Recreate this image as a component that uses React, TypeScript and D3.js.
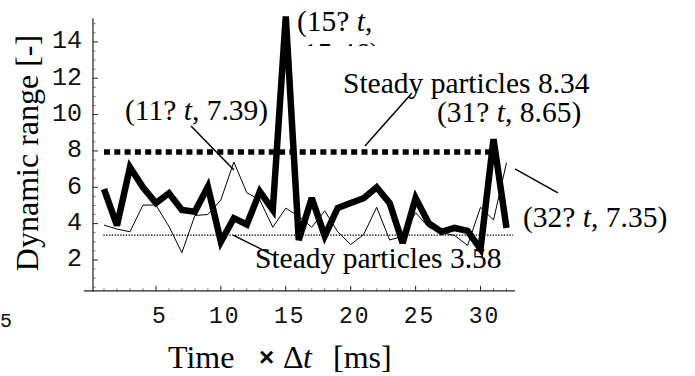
import React from 'react';
import * as d3 from 'd3';

// ---- data ----
const timeSteps = [1, 2, 3, 4, 5, 6, 7, 8, 9, 10, 11, 12, 13, 14, 15, 16, 17, 18, 19, 20, 21, 22, 23, 24, 25, 26, 27, 28, 29, 30, 31, 32];
const rangeThick = [5.9, 3.9, 7.1, 6.0, 5.13, 5.67, 4.75, 4.66, 6.03, 3.0, 4.3, 3.95, 5.76, 4.75, 15.4, 3.1, 5.41, 3.32, 4.86, 5.13, 5.4, 6.0, 5.13, 2.93, 5.41, 4.03, 3.54, 3.76, 3.6, 2.6, 8.65, 3.76];
const rangeThin = [3.92, 3.7, 3.55, 5.02, 5.02, 3.85, 2.4, 4.45, 4.5, 5.3, 7.39, 5.7, 5.3, 3.8, 4.85, 4.4, 3.8, 4.7, 3.55, 2.85, 3.4, 4.9, 3.1, 3.3, 4.6, 3.8, 3.5, 3.35, 2.8, 4.9, 4.2, 7.35];
const steadyHighLevel = 7.94;
const steadyHighSpan = [1, 31];
const steadyLowLevel = 3.37;
const steadyLowSpan = [0.95, 32.5];
const xTickValues = [5, 10, 15, 20, 25, 30];
const yTickValues = [2, 4, 6, 8, 10, 12, 14];
const xMinorTicks = [1, 2, 3, 4, 6, 7, 8, 9, 11, 12, 13, 14, 16, 17, 18, 19, 21, 22, 23, 24, 26, 27, 28, 29, 31, 32];
const yMinorTicks = [0.5, 1, 1.5, 2.5, 3, 3.5, 4.5, 5, 5.5, 6.5, 7, 7.5, 8.5, 9, 9.5, 10.5, 11, 11.5, 12.5, 13, 13.5, 14.5, 15];
const labelSteadyHigh = 'Steady particles 8.34';
const labelSteadyLow = 'Steady particles 3.58';

const W = 695;
const H = 376;
const SERIF = '"Liberation Serif", "Times New Roman", serif';
const MONO = '"Liberation Mono", "DejaVu Sans Mono", monospace';

export default function App() {
  const x = d3.scaleLinear().domain([1, 32]).range([104, 506.5]);
  const y = d3.scaleLinear().domain([0, 14]).range([296.3, 41.9]);

  const line = d3
    .line<number>()
    .x((_, i) => x(timeSteps[i]))
    .y((d) => y(d));

  const axisX0 = x(0.15);
  const axisY0 = y(0.3);
  const xAxisStart = x(-0.55);
  const xAxisEnd = x(32.65);
  const yAxisTop = y(15.3);

  // leader lines, in data coordinates
  const leaders: [number, number, number, number][] = [
    [7.7, 9.37, 11.01, 6.95],
    [24.72, 11.19, 21.1, 8.27],
    [32.65, 7.01, 35.96, 5.69],
    [10.94, 3.37, 14.02, 2.27],
  ];

  const annFont = 29.5;

  return (
    <svg
      width={W}
      height={H}
      viewBox={`0 0 ${W} ${H}`}
      style={{ position: 'absolute', left: 0, top: 0, background: '#fff' }}
    >
      <defs>
        <clipPath id="clipTop">
          <rect x={0} y={0} width={W} height={46} />
        </clipPath>
      </defs>
      <rect x={0} y={0} width={W} height={H} fill="#fff" />

      {/* axes */}
      <line x1={axisX0} x2={axisX0} y1={yAxisTop} y2={axisY0 + 1} stroke="#222" strokeWidth={1.2} />
      <line x1={xAxisStart} x2={xAxisEnd} y1={axisY0} y2={axisY0} stroke="#222" strokeWidth={1.3} />

      {yTickValues.map((v) => (
        <line key={'ym' + v} x1={axisX0} x2={axisX0 + 5} y1={y(v)} y2={y(v)} stroke="#222" strokeWidth={1} />
      ))}
      {yMinorTicks.map((v) => (
        <line key={'yn' + v} x1={axisX0} x2={axisX0 + 2.5} y1={y(v)} y2={y(v)} stroke="#444" strokeWidth={0.8} />
      ))}
      {xTickValues.map((v) => (
        <line key={'xm' + v} x1={x(v)} x2={x(v)} y1={axisY0} y2={axisY0 - 5} stroke="#222" strokeWidth={1} />
      ))}
      {xMinorTicks.map((v) => (
        <line key={'xn' + v} x1={x(v)} x2={x(v)} y1={axisY0} y2={axisY0 - 2.5} stroke="#444" strokeWidth={0.8} />
      ))}

      {yTickValues.map((v) => (
        <text
          key={'yl' + v}
          x={82}
          y={y(v)}
          dominantBaseline="central"
          textAnchor="end"
          fontFamily={MONO}
          fontSize={25}
          fill="#111"
        >
          {v}
        </text>
      ))}
      {xTickValues.map((v) => (
        <text
          key={'xl' + v}
          x={x(v) + 4}
          y={323}
          textAnchor="middle"
          fontFamily={MONO}
          fontSize={23}
          letterSpacing={2}
          fill="#111"
        >
          {v}
        </text>
      ))}

      {/* steady levels */}
      <line
        x1={x(steadyHighSpan[0])}
        x2={x(steadyHighSpan[1])}
        y1={y(steadyHighLevel)}
        y2={y(steadyHighLevel)}
        stroke="#000"
        strokeWidth={5.5}
        strokeDasharray="6 4.3"
      />
      <line
        x1={x(steadyLowSpan[0])}
        x2={x(steadyLowSpan[1])}
        y1={y(steadyLowLevel)}
        y2={y(steadyLowLevel)}
        stroke="#000"
        strokeWidth={1.3}
        strokeDasharray="1.4 1.4"
      />

      {/* series */}
      <path d={line(rangeThick) || ''} fill="none" stroke="#000" strokeWidth={6.5} strokeLinejoin="miter" strokeMiterlimit={3} />
      <path d={line(rangeThin) || ''} fill="none" stroke="#000" strokeWidth={1} />

      {/* leaders */}
      {leaders.map((l, i) => (
        <line key={'ld' + i} x1={x(l[0])} y1={y(l[1])} x2={x(l[2])} y2={y(l[3])} stroke="#000" strokeWidth={1.5} />
      ))}

      {/* annotations */}
      <g fontFamily={SERIF} fontSize={annFont} fill="#000">
        <text x={125} y={120}>
          (11? <tspan fontStyle="italic">t</tspan>, 7.39)
        </text>
        <text x={297} y={31}>
          (15? <tspan fontStyle="italic">t</tspan>,
        </text>
        <text x={303} y={63} clipPath="url(#clipTop)">15.46)</text>
        <text x={343} y={93}>{labelSteadyHigh}</text>
        <text x={437} y={122}>
          (31? <tspan fontStyle="italic">t</tspan>, 8.65)
        </text>
        <text x={523} y={227}>
          (32? <tspan fontStyle="italic">t</tspan>, 7.35)
        </text>
        <text x={255} y={268}>{labelSteadyLow}</text>
      </g>

      {/* axis titles */}
      <text
        transform="translate(38,153) rotate(-90)"
        textAnchor="middle"
        fontFamily={SERIF}
        fontSize={32}
        fill="#000"
      >
        Dynamic range [-]
      </text>
      <g fontFamily={SERIF} fontSize={32} fill="#000">
        <text x={168} y={368}>Time</text>
        <text x={259} y={366} fontFamily='"Liberation Sans", Arial, sans-serif' fontSize={26} fontWeight="bold">×</text>
        <text x={283} y={368}>Δ</text>
        <text x={303} y={368} fontStyle="italic">t</text>
        <text x={333} y={368}>[ms]</text>
      </g>

      {/* fragment of the neighbouring figure */}
      <text x={0} y={327} fontFamily={MONO} fontSize={20} fill="#111">5</text>
    </svg>
  );
}
